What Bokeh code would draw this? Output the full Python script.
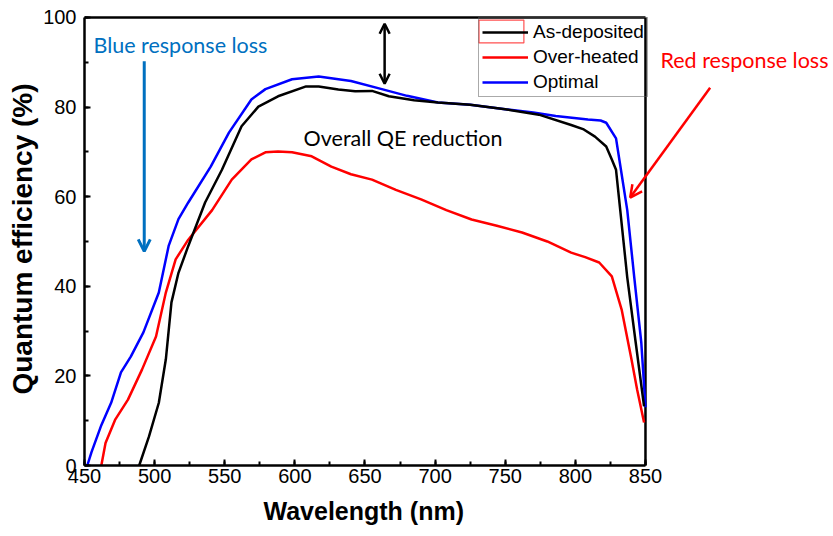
from bokeh.plotting import figure
from bokeh.models import (Legend, LegendItem, Label, Arrow, OpenHead, Title,
                          SingleIntervalTicker, Range1d)
from bokeh.embed import file_html
from bokeh.resources import INLINE

# ---- data ----
opt_x = [452, 455, 462, 469, 476, 483, 492, 503, 510, 517, 524, 540, 553, 569, 579,
         598, 617, 640, 662, 680, 702, 725, 750, 770, 786, 809, 818, 822, 829, 833,
         837, 842, 847, 850]
opt_y = [0, 3, 9, 14, 20.8, 24.3, 29.7, 38.6, 49, 55, 58.7, 66.7, 74.3, 81.7, 84,
         86.2, 86.8, 85.8, 84, 82.5, 81, 80.5, 79.5, 78.8, 78, 77.2, 77, 76.5, 73, 65,
         57, 42, 27.5, 13]

dep_x = [489, 496, 503, 508, 512, 517, 524, 536, 548, 562, 574, 588, 608, 617, 631,
         643, 655, 667, 685, 702, 725, 750, 774, 797, 806, 814, 822, 826, 829, 832,
         837, 843, 849]
dep_y = [0, 6.5, 14, 23.7, 36.4, 43, 49, 58.7, 66, 75.7, 80.1, 82.4, 84.6, 84.6, 83.9,
         83.5, 83.6, 82.4, 81.5, 81, 80.5, 79.5, 78.3, 76, 75, 73.4, 71.2, 68.3, 66, 57,
         42, 27.5, 13.2]

hot_x = [462, 465, 472, 481, 491, 501, 508, 515, 524, 541, 555, 569, 579, 588, 598,
         612, 626, 640, 655, 672, 690, 708, 726, 744, 762, 780, 797, 807, 817, 826,
         833, 840, 844, 849]
hot_y = [0, 5, 10.3, 14.7, 21.4, 28.8, 38.6, 46, 50.4, 57, 63.8, 68.3, 69.9, 70.1, 69.9,
         69, 66.7, 65, 63.8, 61.5, 59.4, 57, 54.9, 53.5, 52, 50, 47.5, 46.5, 45.3, 42.2,
         34.8, 23.7, 17, 9.6]

series_names = ["As-deposited", "Over-heated", "Optimal"]
x_label = "Wavelength (nm)"
y_label = "Quantum efficiency (%)"

# axis limits
X_MIN, X_MAX = 450, 850
Y_MIN, Y_MAX = 0, 100

p = figure(width=828, height=536, x_range=Range1d(X_MIN, 980.5),
           y_range=Range1d(Y_MIN, 101.1),
           output_backend="svg", toolbar_location=None,
           min_border_left=84, min_border_right=0, min_border_top=12,
           min_border_bottom=71, background_fill_color="white",
           border_fill_color="white")
p.xgrid.visible = False
p.ygrid.visible = False
p.outline_line_color = None

p.xaxis.ticker = SingleIntervalTicker(interval=50, num_minor_ticks=2)
p.yaxis.ticker = SingleIntervalTicker(interval=20, num_minor_ticks=2)
p.xaxis.bounds = (X_MIN, X_MAX)
p.yaxis.bounds = (Y_MIN, Y_MAX)
for ax in (p.xaxis, p.yaxis):
    ax.axis_line_width = 2.5
    ax.axis_line_color = "black"
    ax.major_tick_in = 6
    ax.major_tick_out = 0
    ax.minor_tick_in = 4
    ax.minor_tick_out = 0
    ax.major_tick_line_width = 2
    ax.minor_tick_line_width = 2
    ax.major_tick_line_color = "black"
    ax.minor_tick_line_color = "black"
    ax.major_label_text_font = "Liberation Sans"
    ax.major_label_text_font_size = "20px"
    ax.major_label_text_color = "black"
    ax.axis_label_text_font = "Liberation Sans"
    ax.axis_label_text_font_style = "bold"
    ax.axis_label_text_color = "black"
p.yaxis.axis_label = y_label
p.yaxis.axis_label_text_font_size = "28px"
p.xaxis.major_label_standoff = 3
p.yaxis.major_label_standoff = 8
p.yaxis.axis_label_standoff = 2

# x-axis title, centred under the 450-850 axis span
p.add_layout(Title(text=x_label, align="left", offset=179, standoff=18,
                   text_font="Liberation Sans", text_font_style="bold",
                   text_font_size="25px", text_color="black"), "below")

# frame border (top and right) at the axis limits
p.segment(x0=[X_MIN, X_MAX], y0=[Y_MAX, Y_MIN], x1=[X_MAX, X_MAX], y1=[Y_MAX, Y_MAX],
          line_color="black", line_width=2.5)

r_hot = p.line(hot_x, hot_y, line_color="#FF0000", line_width=2.5)
r_opt = p.line(opt_x, opt_y, line_color="#0000FF", line_width=2.5)
r_dep = p.line(dep_x, dep_y, line_color="#000000", line_width=2.5)

# red highlight box around the first legend sample
p.quad(left=[731.3], right=[763.3], top=[99.4], bottom=[94.3],
       fill_alpha=0, line_color="#FF5050", line_width=1.2)

legend = Legend(items=[LegendItem(label=series_names[0], renderers=[r_dep]),
                       LegendItem(label=series_names[1], renderers=[r_hot]),
                       LegendItem(label=series_names[2], renderers=[r_opt])],
                location=(394, 368), margin=0, padding=3, spacing=3,
                glyph_width=46, glyph_height=22, label_height=22, label_standoff=5,
                label_text_font="Liberation Sans", label_text_font_size="19px",
                label_text_color="black",
                border_line_color="#555555", border_line_width=1.5,
                background_fill_alpha=0)
p.add_layout(legend)

tfont = "Lato"
fs = "21.5px"
p.add_layout(Label(x=456.4, y=93.75, text="Blue response loss", text_font=tfont,
                   text_font_size=fs, text_color="#0070C0",
                   text_baseline="middle", text_align="left"))
p.add_layout(Label(x=606.2, y=73.2, text="Overall QE reduction", text_font=tfont,
                   text_font_size=fs, text_color="black",
                   text_baseline="middle", text_align="left"))
p.add_layout(Label(x=860.7, y=90.6, text="Red response loss", text_font=tfont,
                   text_font_size=fs, text_color="#FF0000",
                   text_baseline="middle", text_align="left"))

p.add_layout(Arrow(end=OpenHead(size=12, line_color="#0070C0", line_width=3),
                   x_start=492.6, y_start=90.2, x_end=492.6, y_end=47.8,
                   line_color="#0070C0", line_width=3))
p.add_layout(Arrow(start=OpenHead(size=10, line_color="black", line_width=2.5),
                   end=OpenHead(size=10, line_color="black", line_width=2.5),
                   x_start=664, y_start=98.6, x_end=664, y_end=85.2,
                   line_color="black", line_width=2.5))
p.add_layout(Arrow(end=OpenHead(size=12, line_color="#FF0000", line_width=2.5),
                   x_start=896.1, y_start=84.3, x_end=839.1, y_end=59.8,
                   line_color="#FF0000", line_width=2.5))

open("out.html", "w").write(file_html(p, INLINE))
